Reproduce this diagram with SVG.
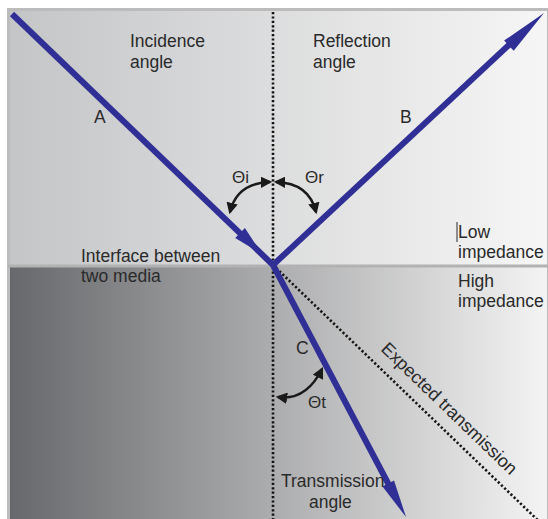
<svg xmlns="http://www.w3.org/2000/svg" width="548" height="519" viewBox="0 0 548 519">
<defs>
<linearGradient id="gTop" x1="0" y1="0" x2="1" y2="0">
<stop offset="0" stop-color="#c4c5c7"/>
<stop offset="1" stop-color="#f6f6f6"/>
</linearGradient>
<linearGradient id="gBot" x1="0" y1="0" x2="1" y2="0">
<stop offset="0" stop-color="#67686b"/>
<stop offset="1" stop-color="#f4f4f4"/>
</linearGradient>
<marker id="ah" viewBox="0 0 10 10" refX="8" refY="5" markerWidth="4.6" markerHeight="4.6" orient="auto-start-reverse" markerUnits="strokeWidth">
<path d="M0,0 L10,5 L0,10 Z" fill="#1a1a1a"/>
</marker>
<style>
text{font-family:"Liberation Sans",Arial,sans-serif;font-size:17.5px;fill:#2a2a2a}
.sm{font-size:17px}
.ray{stroke:#2f2f96;stroke-width:6;fill:none}
.head{fill:#2f2f96}
.dot{stroke:#141414;stroke-width:2.6;stroke-dasharray:2.2 2.2;fill:none}
.arc{stroke:#1a1a1a;stroke-width:2.5;fill:none;marker-start:url(#ah);marker-end:url(#ah)}
</style>
</defs>
<g id="background">
<rect x="8.5" y="9.5" width="540" height="257" fill="url(#gTop)"/>
<rect x="8.5" y="266" width="540" height="260" fill="url(#gBot)"/>
<rect x="8.5" y="9.5" width="540" height="516" fill="none" stroke="#bcbcbc" stroke-width="3"/>
<line x1="8" y1="266" x2="548" y2="266" stroke="#b2b2b2" stroke-width="3"/>
</g>
<g id="connectors">
<line class="dot" x1="273" y1="12" x2="273" y2="519"/>
<line class="dot" x1="273" y1="265" x2="548" y2="530"/>
<line id="rayA" class="ray" x1="12" y1="14" x2="273" y2="265"/>
<polygon class="head" points="235.2,238 244.9,228 262,254"/>
<line id="rayB" class="ray" x1="273" y1="265" x2="511" y2="43"/>
<polygon class="head" points="513.7,50.8 504.1,40.6 544,13"/>
<line id="rayC" class="ray" x1="273" y1="265" x2="390" y2="487"/>
<polygon class="head" points="382.5,486.4 394,480.4 406,517"/>
<path class="arc" d="M270,182 Q237,183 230,212"/>
<path class="arc" d="M276,182 Q309,183 316,212"/>
<path class="arc" d="M278,397 Q306,401 322,369"/>
</g>
<g id="labels">
<text x="130" y="47">Incidence</text>
<text x="130" y="68">angle</text>
<text x="313" y="47">Reflection</text>
<text x="313" y="68">angle</text>
<text x="94" y="123">A</text>
<text x="400" y="123">B</text>
<text x="296" y="354">C</text>
<text class="sm" x="232" y="183">Θi</text>
<text class="sm" x="305" y="183">Θr</text>
<text class="sm" x="308" y="408">Θt</text>
<line x1="457" y1="222" x2="457" y2="242" stroke="#2a2a2a" stroke-width="1"/>
<text x="458" y="238">Low</text>
<text x="458" y="258">impedance</text>
<text x="458" y="287">High</text>
<text x="458" y="307">impedance</text>
<text x="81" y="262">Interface between</text>
<text x="81" y="282">two media</text>
<text x="281" y="487">Transmission</text>
<text x="309" y="508">angle</text>
<text transform="translate(380,350) rotate(44)" style="font-size:18px">Expected transmission</text>
</g>
</svg>
